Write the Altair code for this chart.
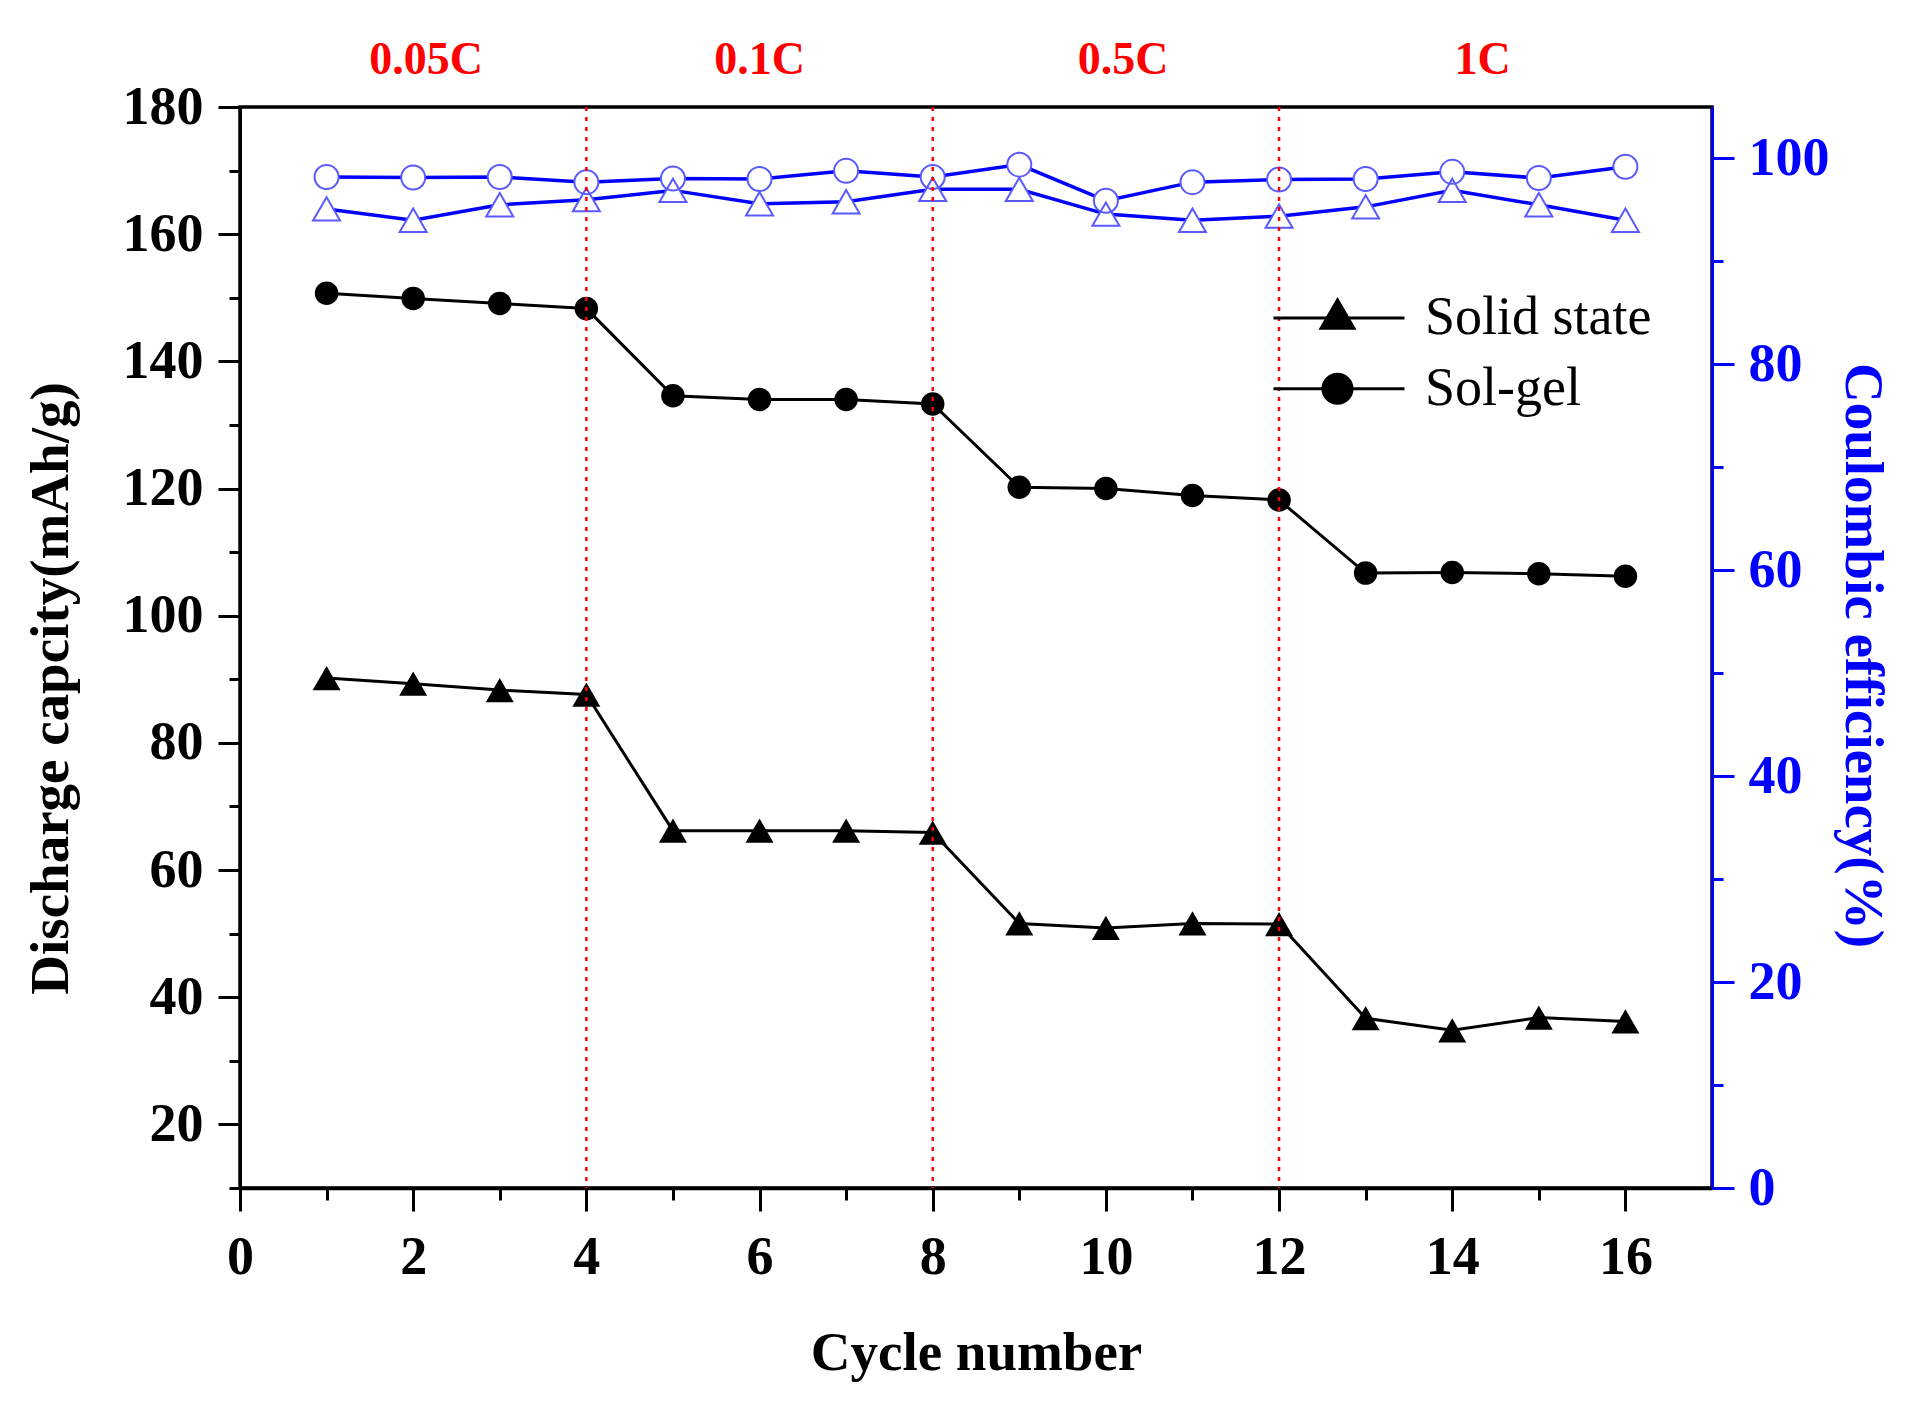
import pandas as pd
import altair as alt

# values
cycles = list(range(1, 17))
solid_cap = [90.2, 89.3, 88.3, 87.6, 66.2, 66.2, 66.2, 65.9,
             51.6, 50.9, 51.6, 51.5, 36.7, 34.8, 36.8, 36.2]
solgel_cap = [150.7, 149.9, 149.1, 148.3, 134.6, 134.0, 134.0, 133.3,
              120.2, 120.0, 118.9, 118.2, 106.7, 106.8, 106.6, 106.2]
solid_ce = [95.1, 94.0, 95.5, 96.0, 96.9, 95.6, 95.8, 97.0,
            97.0, 94.6, 94.0, 94.4, 95.3, 96.9, 95.5, 94.0]
solgel_ce = [98.2, 98.15, 98.2, 97.7, 98.05, 98.0, 98.8, 98.2,
             99.4, 95.9, 97.7, 97.96, 98.0, 98.7, 98.1, 99.2]

rate_breaks = [4, 8, 12]
rate_labels = ["0.05C", "0.1C", "0.5C", "1C"]
rate_label_x = [2.15, 6.0, 10.2, 14.35]

series_names = ["Solid state", "Sol-gel"]
# separate keys for the line part of the legend so it is not merged with the markers
line_keys = ["solid_line", "solgel_line"]

FONT = "Liberation Serif"
BLUE = "#0000ff"
OPEN_BLUE = "#5a5aff"

df = pd.DataFrame({
    "cycle": cycles,
    "solid": solid_cap,
    "solgel": solgel_cap,
    "solid_ce": solid_ce,
    "solgel_ce": solgel_ce,
})
long = pd.DataFrame({
    "cycle": cycles * 2,
    "cap": solid_cap + solgel_cap,
    "series": [series_names[0]] * 16 + [series_names[1]] * 16,
    "series_line": [line_keys[0]] * 16 + [line_keys[1]] * 16,
})

xs = alt.Scale(domain=[0, 17], nice=False, zero=False)
ys_left = alt.Scale(domain=[10, 180], nice=False, zero=False)
ys_right = alt.Scale(domain=[0, 105], nice=False, zero=False)

lab = dict(labelFont=FONT, labelFontSize=54, labelFontWeight="bold",
           labelOverlap=False, labelFlush=False, grid=False)
ttl = dict(titleFont=FONT, titleFontSize=55, titleFontWeight="bold")

bottom_major = alt.Axis(values=list(range(0, 17, 2)), orient="bottom", tickSize=23, tickWidth=3,
                        tickColor="black", domainColor="black", domainWidth=3.5,
                        labelColor="black", labelPadding=19, title="Cycle number",
                        titleColor="black", titleX=736, titleY=181, titleBaseline="alphabetic",
                        titleAlign="center", **lab, **ttl)
bottom_minor = alt.Axis(values=list(range(1, 16, 2)), orient="bottom", tickSize=12, tickWidth=3,
                        tickColor="black", labels=False, domain=False, title=None, grid=False)

left_major = alt.Axis(values=list(range(20, 181, 20)), orient="left", tickSize=22, tickWidth=3,
                      tickColor="black", domainColor="black", domainWidth=3,
                      labelColor="black", labelPadding=15, title="Discharge capcity(mAh/g)",
                      titleColor="black", titleX=-190, titleY=581, titleAngle=270,
                      titleAlign="center", titleBaseline="middle", **lab, **ttl)
left_minor = alt.Axis(values=list(range(10, 180, 20)), orient="left", tickSize=11, tickWidth=3,
                      tickColor="black", labels=False, domain=False, title=None, grid=False)

right_major = alt.Axis(values=list(range(0, 101, 20)), orient="right", tickSize=22, tickWidth=3,
                       tickColor=BLUE, domainColor=BLUE, domainWidth=3,
                       labelColor=BLUE, labelPadding=14, title="Coulombic efficiency(%)",
                       titleColor=BLUE, titleX=150, titleY=548, titleAngle=90,
                       titleAlign="center", titleBaseline="middle", **lab, **ttl)
right_minor = alt.Axis(values=list(range(10, 100, 20)), orient="right", tickSize=11, tickWidth=3,
                       tickColor=BLUE, labels=False, domain=False, title=None, grid=False)

base = alt.Chart(df)
X = alt.X("cycle:Q", scale=xs, axis=None)

# discharge capacity (left axis)
solid_line = base.mark_line(color="black", strokeWidth=3).encode(
    x=X, y=alt.Y("solid:Q", scale=ys_left, axis=left_major))
gel_line = base.mark_line(color="black", strokeWidth=3).encode(
    x=X, y=alt.Y("solgel:Q", scale=ys_left, axis=None))
solid_pts = base.mark_point(shape="triangle-up", filled=True, color="black", size=784, opacity=1).encode(
    x=X, y=alt.Y("solid:Q", scale=ys_left, axis=left_minor))
gel_pts = base.mark_point(shape="circle", filled=True, color="black", size=552, opacity=1).encode(
    x=X, y=alt.Y("solgel:Q", scale=ys_left, axis=None))

# legend: marker legend on top of a line legend with the same layout
LEG_SIZE = 17161
leg_common = dict(title=None, orient="none", legendX=1032, legendY=181,
                  symbolSize=LEG_SIZE, clipHeight=60, rowPadding=10.7, padding=0,
                  labelFont=FONT, labelFontSize=54, labelFontWeight="normal",
                  labelColor="black", labelOffset=22, labelLimit=500)

tri_path = "M0,-0.32L0.29,0.18L-0.29,0.18Z"
circ_path = "M0.245,0A0.245,0.245,0,1,1,-0.245,0A0.245,0.245,0,1,1,0.245,0Z"

legend_lines = alt.Chart(long).transform_filter("false").mark_line(
    strokeWidth=3, opacity=1
).encode(
    color=alt.Color("series_line:N",
                    scale=alt.Scale(domain=line_keys, range=["black", "black"]),
                    legend=alt.Legend(symbolType="stroke", symbolStrokeWidth=3,
                                      labelExpr="''", **leg_common))
)
legend_marks = alt.Chart(long).transform_filter("false").mark_point(
    filled=True, color="black", size=LEG_SIZE, opacity=1
).encode(
    shape=alt.Shape("series:N",
                    scale=alt.Scale(domain=series_names, range=[tri_path, circ_path]),
                    legend=alt.Legend(symbolFillColor="black", symbolOpacity=1,
                                      symbolStrokeWidth=0, **leg_common))
)

left = alt.layer(solid_line, gel_line, solid_pts, gel_pts,
                 legend_lines, legend_marks).resolve_axis(y="independent")

# coulombic efficiency (right axis)
ce_tri_line = base.mark_line(color=BLUE, strokeWidth=3.5).encode(
    x=X, y=alt.Y("solid_ce:Q", scale=ys_right, axis=right_major))
ce_circ_line = base.mark_line(color=BLUE, strokeWidth=3.5).encode(
    x=X, y=alt.Y("solgel_ce:Q", scale=ys_right, axis=None))
ce_tri_fill = base.mark_point(shape="triangle-up", filled=True, color="white", size=729, opacity=1).encode(
    x=X, y=alt.Y("solid_ce:Q", scale=ys_right, axis=None))
ce_circ_fill = base.mark_point(shape="circle", filled=True, color="white", size=576, opacity=1).encode(
    x=X, y=alt.Y("solgel_ce:Q", scale=ys_right, axis=None))
ce_tri_pts = base.mark_point(shape="triangle-up", filled=False, color=OPEN_BLUE, strokeWidth=2,
                             size=729, opacity=1).encode(
    x=X, y=alt.Y("solid_ce:Q", scale=ys_right, axis=right_minor))
ce_circ_pts = base.mark_point(shape="circle", filled=False, color=OPEN_BLUE, strokeWidth=2,
                              size=576, opacity=1).encode(
    x=X, y=alt.Y("solgel_ce:Q", scale=ys_right, axis=None))

right = alt.layer(ce_tri_line, ce_circ_line, ce_tri_fill, ce_circ_fill,
                  ce_tri_pts, ce_circ_pts).resolve_axis(y="independent")

# rate change markers and labels
rules = alt.Chart(pd.DataFrame({"cycle": rate_breaks})).mark_rule(
    color="red", strokeWidth=2.5, strokeDash=[4, 6]
).encode(x=alt.X("cycle:Q", scale=xs, axis=bottom_major))

labels = alt.Chart(pd.DataFrame({"cycle": rate_label_x, "label": rate_labels})).mark_text(
    font=FONT, fontSize=46, fontWeight="bold", color="red", baseline="middle"
).encode(x=alt.X("cycle:Q", scale=xs, axis=bottom_minor), y=alt.value(-47), text="label:N")

chart = alt.layer(left, right, rules, labels).resolve_scale(
    y="independent"
).resolve_axis(
    x="independent"
).properties(
    width=1472, height=1081,
    autosize=alt.AutoSizeParams(type="none"),
    padding={"left": 232, "top": 99, "right": 193, "bottom": 205},
    background="white",
).configure_view(stroke="black", strokeWidth=3.5)

chart.save("out.html", embed_options={"renderer": "svg", "actions": False})
